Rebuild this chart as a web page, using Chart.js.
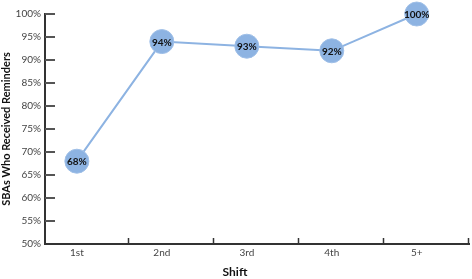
<!DOCTYPE html>
<html>
<head>
<meta charset="utf-8">
<script src="https://cdn.jsdelivr.net/npm/chart.js@4"></script>
<style>
  html, body { margin: 0; padding: 0; background: #fff; }
  #wrap { width: 472px; height: 279px; }
</style>
</head>
<body>
<div id="wrap"><canvas id="shiftChart" width="472" height="279"></canvas></div>
<script>
// chart data
const shifts = ['1st', '2nd', '3rd', '4th', '5+'];
const pctReminded = [68, 94, 93, 92, 100];
const yMin = 50;
const yMax = 100;
const yStep = 5;

const lineBlue = '#8db3e2';
const boundaryShift = 0.615; // category boundaries sit a bit right of each point

// write the percentage inside every point
const pointLabels = {
  id: 'pointLabels',
  afterDatasetsDraw(chart) {
    const ctx = chart.ctx;
    const meta = chart.getDatasetMeta(0);
    ctx.save();
    ctx.font = 'bold 10px Lato, sans-serif';
    ctx.fillStyle = '#111';
    ctx.textAlign = 'center';
    ctx.textBaseline = 'middle';
    meta.data.forEach((pt, i) => {
      ctx.fillText(pctReminded[i] + '%', pt.x, pt.y + 1);
    });
    ctx.restore();
  }
};

// short tick marks pointing into the plot, as in the original
const innerTicks = {
  id: 'innerTicks',
  beforeDatasetsDraw(chart) {
    const ctx = chart.ctx;
    const xs = chart.scales.x;
    const ys = chart.scales.y;
    ctx.save();
    ctx.strokeStyle = '#555';
    ctx.lineWidth = 2;
    ys.ticks.forEach(t => {
      const py = Math.round(ys.getPixelForValue(t.value));
      if (py >= ys.bottom - 1) return;
      ctx.beginPath();
      ctx.moveTo(ys.right, py);
      ctx.lineTo(ys.right + 10, py);
      ctx.stroke();
    });
    ctx.strokeStyle = '#333';
    ctx.lineWidth = 1.5;
    xs.ticks.forEach(t => {
      if (Number.isInteger(t.value)) return;
      const px = Math.round(xs.getPixelForValue(t.value)) - 0.5;
      ctx.beginPath();
      ctx.moveTo(px, xs.top);
      ctx.lineTo(px, xs.top - 6);
      ctx.stroke();
    });
    ctx.restore();
  }
};

const ctx = document.getElementById('shiftChart').getContext('2d');
new Chart(ctx, {
  type: 'line',
  data: {
    datasets: [{
      data: pctReminded.map((v, i) => ({ x: i, y: v })),
      borderColor: lineBlue,
      borderWidth: 2,
      backgroundColor: lineBlue,
      pointBackgroundColor: lineBlue,
      pointBorderColor: '#9fbfe7',
      pointBorderWidth: 1,
      pointRadius: 12,
      tension: 0,
      fill: false,
      clip: false
    }]
  },
  options: {
    responsive: false,
    animation: false,
    layout: { autoPadding: false, padding: { left: 0, right: 2, top: 14, bottom: 0 } },
    plugins: {
      legend: { display: false },
      tooltip: { enabled: false },
      title: {
        display: true,
        position: 'bottom',
        text: 'Shift',
        color: '#111',
        font: { family: 'Lato, sans-serif', size: 12, weight: 'bold' },
        padding: { top: 4, bottom: 0 }
      }
    },
    scales: {
      x: {
        type: 'linear',
        min: -0.375,
        max: 4 + boundaryShift,
        afterBuildTicks: axis => {
          const t = [];
          shifts.forEach((s, i) => {
            t.push({ value: i });
            t.push({ value: i + boundaryShift });
          });
          axis.ticks = t;
        },
        afterFit: scale => { scale.height = 16.6; },
        ticks: {
          autoSkip: false,
          maxRotation: 0,
          padding: 3,
          color: '#444',
          font: { family: 'Lato, sans-serif', size: 10 },
          callback: v => Number.isInteger(v) ? shifts[v] : ''
        },
        grid: { display: false, drawTicks: false },
        border: { color: '#333', width: 2 }
      },
      y: {
        min: yMin,
        max: yMax,
        afterFit: scale => { scale.width = 45; },
        ticks: {
          stepSize: yStep,
          padding: 4,
          color: '#444',
          font: { family: 'Lato, sans-serif', size: 10 },
          callback: v => v + '%'
        },
        grid: { display: false, drawTicks: false },
        border: { color: '#333', width: 2 },
        title: {
          display: true,
          text: 'SBAs Who Received Reminders',
          color: '#111',
          font: { family: 'Lato, sans-serif', size: 11, weight: 'bold' },
          padding: { top: 0, bottom: 0 }
        }
      }
    }
  },
  plugins: [innerTicks, pointLabels]
});
</script>
</body>
</html>
